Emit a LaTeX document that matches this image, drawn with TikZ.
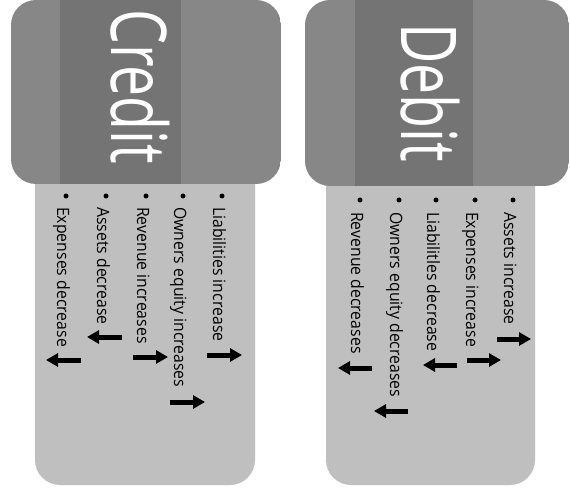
\documentclass[tikz,border=0pt]{standalone}
\usepackage{fontspec}
\setmainfont{Open Sans}
\usetikzlibrary{arrows.meta}
\definecolor{topout}{HTML}{878787}
\definecolor{topband}{HTML}{747474}
\definecolor{lowerfill}{HTML}{BFBFBF}
\newcommand\itemtxt[1]{\scalebox{0.93}[1]{#1}}
\begin{document}
\begin{tikzpicture}[x=1pt,y=-1pt,
  item/.style={rotate=-90, anchor=base west, inner sep=0pt, font=\fontsize{17}{17}\selectfont},
  titletext/.style={rotate=-90, anchor=base west, inner sep=0pt, text=white},
  bul/.style={circle, fill=black, inner sep=0pt, minimum size=5pt},
  arr/.style={line width=5pt, -{Triangle[width=13pt,length=12pt]}}
]
\useasboundingbox[fill=white] (0,0) rectangle (570,489);

% lower panels
\fill[lowerfill, rounded corners=25pt] (35,140) rectangle (255,485);
\fill[lowerfill, rounded corners=25pt] (326,140) rectangle (535,485);

% Credit header
\begin{scope}
  \clip[rounded corners=25pt] (11,0) rectangle (281,184);
  \fill[topout] (11,0) rectangle (281,184);
  \fill[topband] (60,0) rectangle (181,184);
\end{scope}
% Debit header
\begin{scope}
  \clip[rounded corners=25pt] (305,0) rectangle (569,186);
  \fill[topout] (305,0) rectangle (569,186);
  \fill[topband] (355,0) rectangle (473,186);
\end{scope}

\node[titletext] (credit) at (111,9) {\scalebox{0.72}[1]{\fontsize{77}{77}\selectfont Credit}};
\node[titletext] (debit) at (401,23) {\scalebox{0.72}[1]{\fontsize{77}{77}\selectfont Debit}};

% Credit items
\node[bul] (cb1) at (222,196) {};
\node[bul] (cb2) at (183,196) {};
\node[bul] (cb3) at (146,196) {};
\node[bul] (cb4) at (106,196) {};
\node[bul] (cb5) at (66,196) {};
\node[item] (ct1) at (213,207) {\itemtxt{Liabilities increase}};
\node[item] (ct2) at (174,207) {\itemtxt{Owners equity increases}};
\node[item] (ct3) at (137,207) {\itemtxt{Revenue increases}};
\node[item] (ct4) at (97,207) {\itemtxt{Assets decrease}};
\node[item] (ct5) at (57,207) {\itemtxt{Expenses decrease}};
\coordinate (ca1s) at (207,355); \coordinate (ca1e) at (242,355);
\coordinate (ca2s) at (170,402); \coordinate (ca2e) at (205,402);
\coordinate (ca3s) at (133,357); \coordinate (ca3e) at (168,357);
\coordinate (ca4s) at (122,337); \coordinate (ca4e) at (87,337);
\coordinate (ca5s) at (81,360);  \coordinate (ca5e) at (46,360);
\draw[arr] (ca1s) -- (ca1e);
\draw[arr] (ca2s) -- (ca2e);
\draw[arr] (ca3s) -- (ca3e);
\draw[arr] (ca4s) -- (ca4e);
\draw[arr] (ca5s) -- (ca5e);

% Debit items
\node[bul] (db1) at (513,200) {};
\node[bul] (db2) at (475,200) {};
\node[bul] (db3) at (436,200) {};
\node[bul] (db4) at (399,200) {};
\node[bul] (db5) at (360,200) {};
\node[item] (dt1) at (504,212) {\itemtxt{Assets increase}};
\node[item] (dt2) at (466,212) {\itemtxt{Expenses increase}};
\node[item] (dt3) at (427,212) {\itemtxt{Liabilitles decrease}};
\node[item] (dt4) at (390,212) {\itemtxt{Owners equity decreases}};
\node[item] (dt5) at (351,212) {\itemtxt{Revenue decreases}};
\coordinate (da1s) at (497,339); \coordinate (da1e) at (531,339);
\coordinate (da2s) at (467,360); \coordinate (da2e) at (501,360);
\coordinate (da3s) at (457,365); \coordinate (da3e) at (423,365);
\coordinate (da4s) at (408,411); \coordinate (da4e) at (374,411);
\coordinate (da5s) at (372,368); \coordinate (da5e) at (338,368);
\draw[arr] (da1s) -- (da1e);
\draw[arr] (da2s) -- (da2e);
\draw[arr] (da3s) -- (da3e);
\draw[arr] (da4s) -- (da4e);
\draw[arr] (da5s) -- (da5e);
\end{tikzpicture}
\end{document}
